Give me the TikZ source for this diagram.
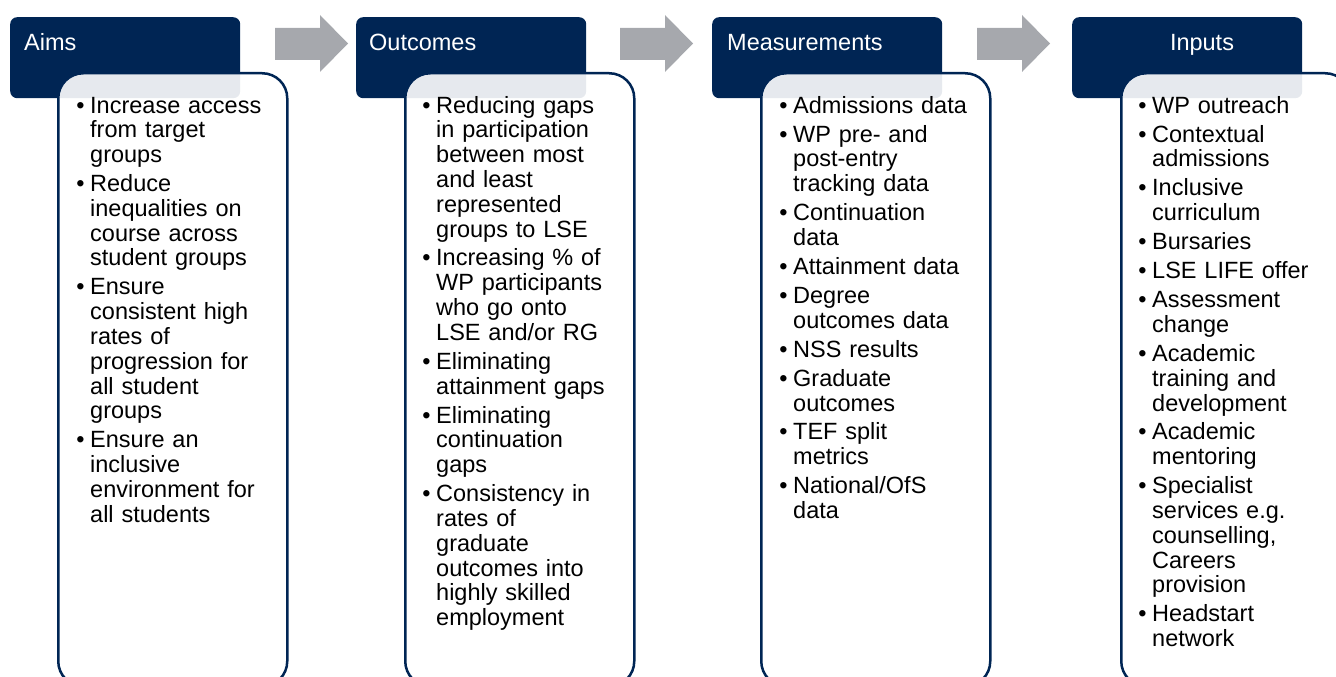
\documentclass[tikz,border=0pt]{standalone}
\usepackage{fontspec}
\setmainfont{Liberation Sans}
\definecolor{navy}{RGB}{0,37,84}
\definecolor{arrowgray}{RGB}{166,168,173}
\newcommand\bul{\leavevmode\llap{\textbullet\hspace{5.5pt}}}
\tikzset{
  hdr/.style={rectangle, rounded corners=7pt, fill=navy, minimum width=230pt, minimum height=81pt, inner sep=0pt, anchor=north west},
  cbox/.style={rectangle, rounded corners=25pt, draw=navy, line width=2.5pt, fill=white, fill opacity=0.9, minimum width=229pt, minimum height=613pt, inner sep=0pt, anchor=north west},
  htext/.style={text=white, inner sep=0pt, font=\fontsize{23.5}{25}\selectfont},
  body/.style={text=black, inner sep=0pt, anchor=base west, text width=260pt, align=left, font=\fontsize{23.5}{24.8}\selectfont},
  blockarrow/.pic={\fill[arrowgray] (0,13) -- (45,13) -- (45,0) -- (73,28.5) -- (45,57) -- (45,45) -- (0,45) -- cycle;}
}
\begin{document}
\begin{tikzpicture}[x=1pt,y=-1pt]
\useasboundingbox (0,0) rectangle (1336,677);
\clip (0,0) rectangle (1336,677);
% block arrows
\pic (a1) at (275,15) {blockarrow};
\pic (a2) at (620,15) {blockarrow};
\pic (a3) at (977,15) {blockarrow};
% headers
\node[hdr] (h1) at (10,17) {};
\node[hdr] (h2) at (356,17) {};
\node[hdr] (h3) at (712,17) {};
\node[hdr] (h4) at (1072,17) {};
% content boxes
\node[cbox] (c1) at (57,72) {};
\node[cbox] (c2) at (404,72) {};
\node[cbox] (c3) at (760,72) {};
\node[cbox] (c4) at (1120,72) {};
% header titles
\node[htext, anchor=base west] (t1) at (24,51) {Aims};
\node[htext, anchor=base west] (t2) at (369,51) {Outcomes};
\node[htext, anchor=base west] (t3) at (727,51) {Measurements};
\node[htext, anchor=base] (t4) at (1202,51) {Inputs};
% bodies
\node[body] (b1) at (90,113) {%
\bul Increase access\\ from target\\ groups\\[4.2pt]
\bul Reduce\\ inequalities on\\ course across\\ student groups\\[4.2pt]
\bul Ensure\\ consistent high\\ rates of\\ progression for\\ all student\\ groups\\[4.2pt]
\bul Ensure an\\ inclusive\\ environment for\\ all students};
\node[body] (b2) at (436,113) {%
\bul Reducing gaps\\ in participation\\ between most\\ and least\\ represented\\ groups to LSE\\[4.2pt]
\bul Increasing \% of\\ WP participants\\ who go onto\\ LSE and/or RG\\[4.2pt]
\bul Eliminating\\ attainment gaps\\[4.2pt]
\bul Eliminating\\ continuation\\ gaps\\[4.2pt]
\bul Consistency in\\ rates of\\ graduate\\ outcomes into\\ highly skilled\\ employment};
\node[body] (b3) at (793,113) {%
\bul Admissions data\\[4.2pt]
\bul WP pre- and\\ post-entry\\ tracking data\\[4.2pt]
\bul Continuation\\ data\\[4.2pt]
\bul Attainment data\\[4.2pt]
\bul Degree\\ outcomes data\\[4.2pt]
\bul NSS results\\[4.2pt]
\bul Graduate\\ outcomes\\[4.2pt]
\bul TEF split\\ metrics\\[4.2pt]
\bul National/OfS\\ data};
\node[body] (b4) at (1152,113) {%
\bul WP outreach\\[4.2pt]
\bul Contextual\\ admissions\\[4.2pt]
\bul Inclusive\\ curriculum\\[4.2pt]
\bul Bursaries\\[4.2pt]
\bul LSE LIFE offer\\[4.2pt]
\bul Assessment\\ change\\[4.2pt]
\bul Academic\\ training and\\ development\\[4.2pt]
\bul Academic\\ mentoring\\[4.2pt]
\bul Specialist\\ services e.g.\\ counselling,\\ Careers\\ provision\\[4.2pt]
\bul Headstart\\ network};
\end{tikzpicture}
\end{document}
